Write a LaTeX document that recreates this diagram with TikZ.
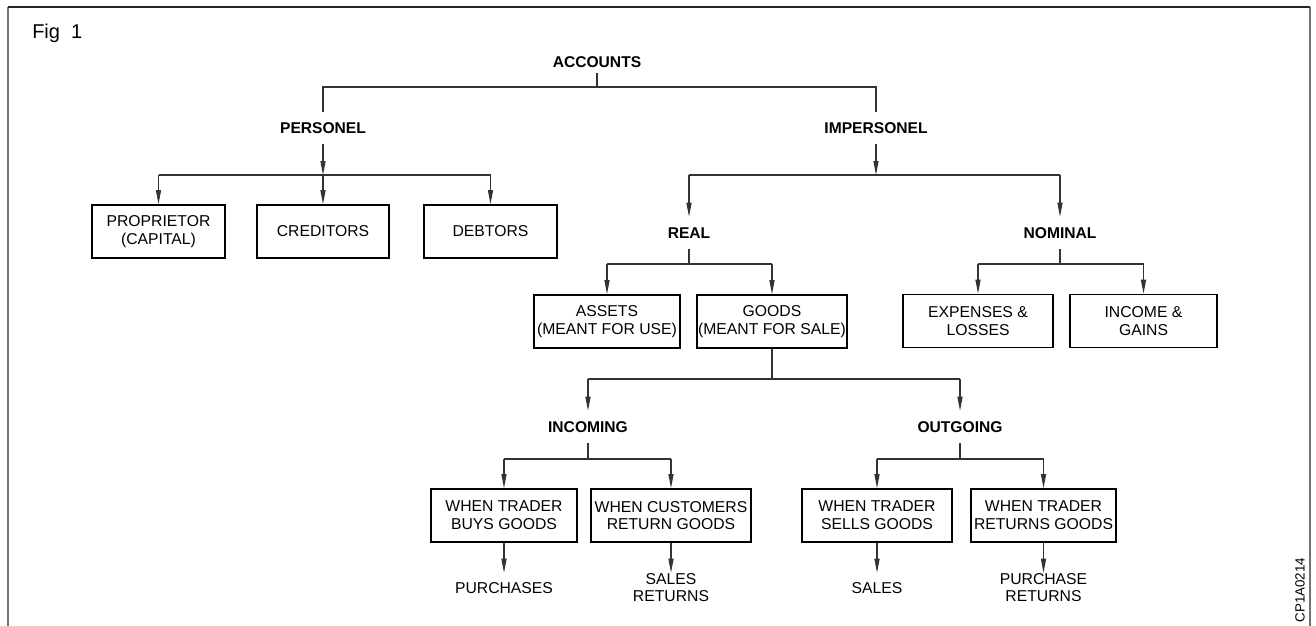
\documentclass[tikz,border=0pt]{standalone}
\usepackage{fontspec}
\setmainfont{Liberation Sans}
\usetikzlibrary{arrows.meta,calc}
\begin{document}
\begin{tikzpicture}[x=0.75pt,y=-0.75pt,
  conn/.style={draw=black!80, line width=0.8pt},
  arr/.style={conn, -{Triangle[length=10.5pt,width=3.8pt]}},
  box/.style={draw=black, line width=1.3pt, inner sep=0pt, minimum height=39.75pt, align=center, font=\fontsize{11.8}{13.3}\selectfont},
  lbl/.style={inner sep=0pt, minimum height=24pt, font=\fontsize{11.7}{13.2}\selectfont\bfseries},
  leaf/.style={inner sep=0pt, minimum height=22.5pt, align=center, font=\fontsize{11.8}{12.75}\selectfont},
]
\useasboundingbox (0,0) rectangle (1316,625);
\fill[white] (0,0) rectangle (1316,625);
% frame
\draw[black!55, line width=1.1pt] (8,660) -- (8,7);
\draw[black!55, line width=1.1pt] (1310,7) -- (1310,660);
\draw[black!85, line width=1.1pt] (8,7) -- (1310,7);

\node[anchor=base west, inner sep=0pt, font=\fontsize{15}{18}\selectfont] (fig) at (32,38) {Fig\ \ 1};

% labels
\node[lbl, minimum height=16.5pt] (acc) at (597,62) {ACCOUNTS};
\node[lbl] (personel) at (323,128) {PERSONEL};
\node[lbl] (impersonel) at (876,128) {IMPERSONEL};
\node[lbl] (real) at (689,233) {REAL};
\node[lbl] (nominal) at (1060,233) {NOMINAL};
\node[lbl] (incoming) at (588,427) {INCOMING};
\node[lbl] (outgoing) at (960,427) {OUTGOING};

% boxes
\node[box, minimum width=99.75pt] (prop) at (158.5,231.5) {PROPRIETOR\\(CAPITAL)};
\node[box, minimum width=99pt] (cred) at (323,231.5) {CREDITORS};
\node[box, minimum width=99.75pt] (debt) at (490.5,231.5) {DEBTORS};
\node[box, minimum width=109.5pt] (assets) at (607,321.5) {ASSETS\\(MEANT FOR USE)};
\node[box, minimum width=112.5pt] (goods) at (772,321.5) {GOODS\\(MEANT FOR SALE)};
\node[box, minimum width=112.5pt] (expenses) at (978,321) {EXPENSES \&\\LOSSES};
\node[box, minimum width=110.25pt] (income) at (1143.5,321) {INCOME \&\\GAINS};
\node[box, minimum width=109.5pt] (buys) at (504,515.5) {WHEN TRADER\\BUYS GOODS};
\node[box, minimum width=120pt] (custret) at (671,515.5) {WHEN CUSTOMERS\\RETURN GOODS};
\node[box, minimum width=112.5pt] (sells) at (877,515.5) {WHEN TRADER\\SELLS GOODS};
\node[box, minimum width=108.75pt] (trret) at (1043.5,515.5) {WHEN TRADER\\RETURNS GOODS};

% leaves
\node[leaf] (purchases) at (504,588) {PURCHASES};
\node[leaf] (salesret) at (671,588) {SALES\\RETURNS};
\node[leaf] (sales) at (877,588) {SALES};
\node[leaf] (purchret) at (1043.5,588) {PURCHASE\\RETURNS};

\node[rotate=90, inner sep=0pt, font=\fontsize{10}{12}\selectfont] (code) at (1300,590) {CP1A0214};

% connectors
\coordinate (jA) at (597,87);
\draw[conn] (acc.south) -- (jA);
\draw[conn] (personel.north) -- (personel.north |- jA) -- (impersonel.north |- jA) -- (impersonel.north);

\coordinate (jP) at (323,175);
\draw[arr] (personel.south) -- (jP);
\draw[conn] (prop.north |- jP) -- (debt.north |- jP);
\foreach \b in {prop,cred,debt} \draw[arr] (\b.north |- jP) -- (\b.north);

\coordinate (jI) at (876,175);
\draw[arr] (impersonel.south) -- (jI);
\draw[conn] (real.north |- jI) -- (nominal.north |- jI);
\foreach \b in {real,nominal} \draw[arr] (\b.north |- jI) -- (\b.north);

\coordinate (jR) at (689,264);
\draw[conn] (real.south) -- (jR);
\draw[conn] (assets.north |- jR) -- (goods.north |- jR);
\foreach \b in {assets,goods} \draw[arr] (\b.north |- jR) -- (\b.north);

\coordinate (jN) at (1060,264);
\draw[conn] (nominal.south) -- (jN);
\draw[conn] (expenses.north |- jN) -- (income.north |- jN);
\foreach \b in {expenses,income} \draw[arr] (\b.north |- jN) -- (\b.north);

\coordinate (jG) at (772,379);
\draw[conn] (goods.south) -- (jG);
\draw[conn] (incoming.north |- jG) -- (outgoing.north |- jG);
\foreach \b in {incoming,outgoing} \draw[arr] (\b.north |- jG) -- (\b.north);

\coordinate (jIn) at (588,459);
\draw[conn] (incoming.south) -- (jIn);
\draw[conn] (buys.north |- jIn) -- (custret.north |- jIn);
\foreach \b in {buys,custret} \draw[arr] (\b.north |- jIn) -- (\b.north);

\coordinate (jOut) at (960,459);
\draw[conn] (outgoing.south) -- (jOut);
\draw[conn] (sells.north |- jOut) -- (trret.north |- jOut);
\foreach \b in {sells,trret} \draw[arr] (\b.north |- jOut) -- (\b.north);

\draw[arr] (buys.south) -- (purchases.north);
\draw[arr] (custret.south) -- (salesret.north);
\draw[arr] (sells.south) -- (sales.north);
\draw[arr] (trret.south) -- (purchret.north);
\end{tikzpicture}
\end{document}
